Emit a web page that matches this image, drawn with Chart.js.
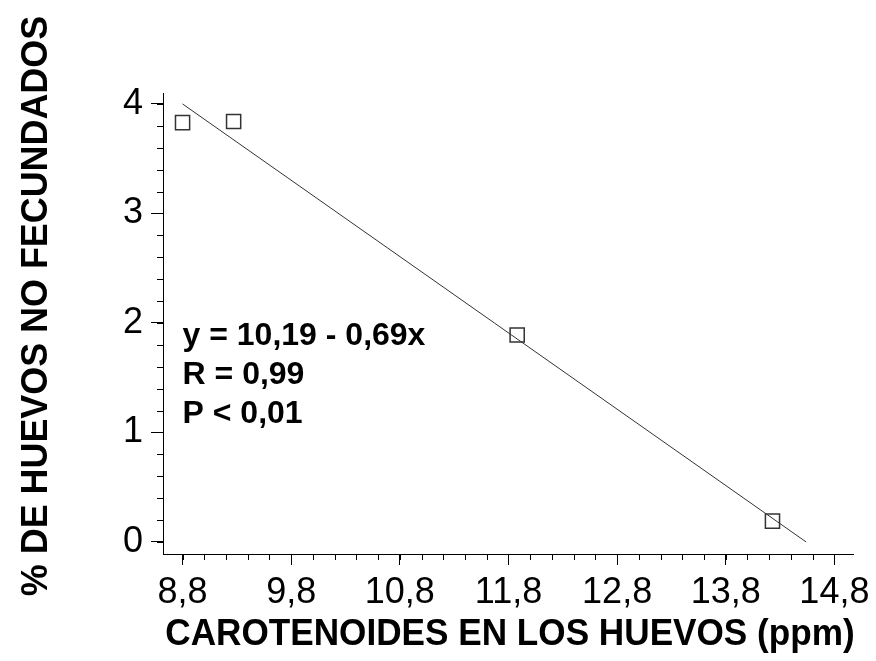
<!DOCTYPE html>
<html>
<head>
<meta charset="utf-8">
<script src="https://cdn.jsdelivr.net/npm/chart.js@4.4.1/dist/chart.umd.min.js"></script>
<style>
  html, body { margin: 0; padding: 0; background: #fff; }
  #wrap { width: 876px; height: 661px; position: relative; }
</style>
</head>
<body>
<div id="wrap"><canvas id="myChart" width="876" height="661"></canvas></div>
<script>
// data
const carotenoides = [8.8, 9.27, 11.88, 14.23];
const noFecundados = [3.83, 3.84, 1.89, 0.19];
// regression line ends (as drawn)
const fitX = [8.8, 14.54];
const fitY = [4.0, 0.0];
const xTicks = [8.8, 9.8, 10.8, 11.8, 12.8, 13.8, 14.8];
const yTicks = [0, 1, 2, 3, 4];
const stats = ['y = 10,19 - 0,69x', 'R = 0,99', 'P < 0,01'];

const FONT = "'Liberation Sans', Arial, sans-serif";

// minor ticks, titles and the equation text
const extras = {
  id: 'extras',
  afterDraw(chart) {
    const ctx = chart.ctx;
    const xs = chart.scales.x, ys = chart.scales.y;
    ctx.save();
    ctx.strokeStyle = '#000';
    ctx.lineWidth = 1;
    ctx.beginPath();
    for (let v = 8.8; v <= 14.81; v += 0.2) {
      const px = Math.round(xs.getPixelForValue(v)) + 0.5;
      ctx.moveTo(px, xs.top);
      ctx.lineTo(px, xs.top + 6);
    }
    for (let v = 0; v <= 4.01; v += 0.2) {
      const py = Math.round(ys.getPixelForValue(v)) + 0.5;
      ctx.moveTo(ys.right, py);
      ctx.lineTo(ys.right - 6, py);
    }
    ctx.stroke();

    ctx.fillStyle = '#000';
    ctx.font = 'bold 37px ' + FONT;
    ctx.textAlign = 'center';
    ctx.textBaseline = 'alphabetic';
    ctx.save();
    ctx.translate(510, 645);
    ctx.scale(0.95, 1);
    ctx.fillText('CAROTENOIDES EN LOS HUEVOS (ppm)', 0, 0);
    ctx.restore();
    ctx.save();
    ctx.translate(47, 306);
    ctx.rotate(-Math.PI / 2);
    ctx.scale(0.97, 1);
    ctx.fillText('% DE HUEVOS NO FECUNDADOS', 0, 0);
    ctx.restore();

    ctx.font = 'bold 32px ' + FONT;
    ctx.textAlign = 'left';
    const x0 = xs.getPixelForValue(8.8);
    stats.forEach((s, i) => ctx.fillText(s, x0, 345 + i * 39));
    ctx.restore();
  }
};

new Chart(document.getElementById('myChart').getContext('2d'), {
  type: 'scatter',
  data: {
    datasets: [
      {
        label: 'ajuste',
        type: 'line',
        data: fitX.map((x, i) => ({ x: x, y: fitY[i] })),
        borderColor: '#333',
        borderWidth: 1,
        pointRadius: 0,
        fill: false
      },
      {
        label: 'datos',
        data: carotenoides.map((x, i) => ({ x: x, y: noFecundados[i] })),
        pointStyle: 'rect',
        pointRadius: 10,
        borderColor: '#333',
        borderWidth: 1.5,
        backgroundColor: 'rgba(0,0,0,0)'
      }
    ]
  },
  options: {
    responsive: false,
    animation: false,
    layout: { padding: { top: 93, right: 20, left: 0, bottom: 0 } },
    plugins: { legend: { display: false }, tooltip: { enabled: false } },
    scales: {
      x: {
        type: 'linear',
        min: 8.62,
        max: 14.98,
        afterBuildTicks: s => { s.ticks = xTicks.map(v => ({ value: v })); },
        afterFit: s => { s.height = 661 - 554; },
        grid: { drawOnChartArea: false, tickLength: 11, color: '#000' },
        border: { display: true, color: '#000', width: 1 },
        ticks: {
          color: '#000',
          font: { family: FONT, size: 36 },
          padding: 6,
          maxRotation: 0,
          autoSkip: false,
          callback: v => v.toFixed(1).replace('.', ',')
        }
      },
      y: {
        type: 'linear',
        min: -0.11,
        max: 4.1,
        afterBuildTicks: s => { s.ticks = yTicks.map(v => ({ value: v })); },
        afterFit: s => { s.width = 163; },
        grid: { drawOnChartArea: false, tickLength: 12, color: '#000' },
        border: { display: true, color: '#000', width: 1 },
        ticks: {
          color: '#000',
          font: { family: FONT, size: 36 },
          padding: 8,
          autoSkip: false
        }
      }
    }
  },
  plugins: [extras]
});
</script>
</body>
</html>
